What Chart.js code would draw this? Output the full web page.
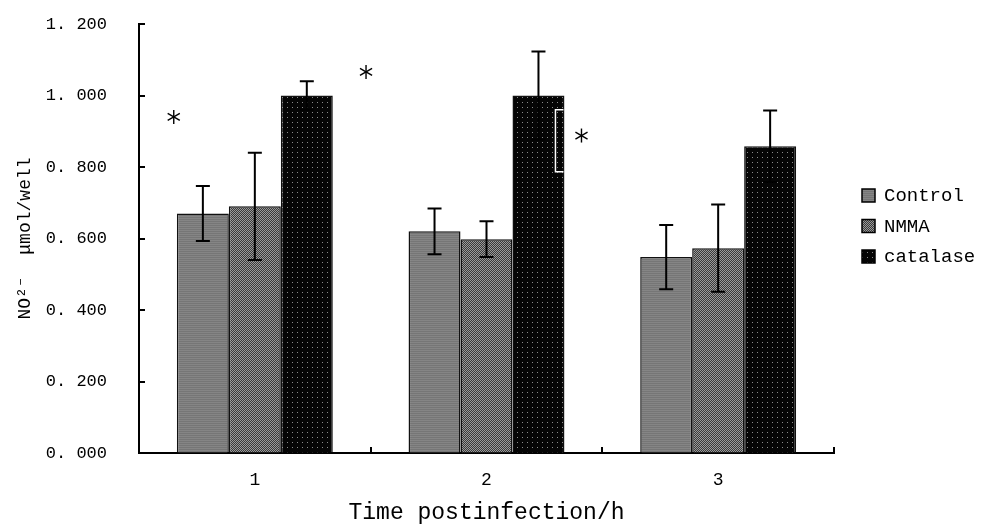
<!DOCTYPE html>
<html>
<head>
<meta charset="utf-8">
<script src="https://cdn.jsdelivr.net/npm/chart.js@4/dist/chart.umd.min.js"></script>
<style>
  html, body { margin: 0; padding: 0; background: #fff; }
  #wrap { width: 983px; height: 527px; }
</style>
</head>
<body>
<div id="wrap"><canvas id="no2Chart" width="983" height="527"></canvas></div>
<script>
// data
const categories = ["1", "2", "3"];
const seriesNames = ["Control", "NMMA", "catalase"];
const controlVals = [0.670, 0.620, 0.548];
const nmmaVals = [0.690, 0.598, 0.573];
const catalaseVals = [1.000, 1.000, 0.858];
const controlErr = [0.077, 0.064, 0.090];
const nmmaErr = [0.150, 0.050, 0.122];
const catalaseErr = [0.040, 0.123, 0.100];
const yTickLabels = ["0. 000", "0. 200", "0. 400", "0. 600", "0. 800", "1. 000", "1. 200"];
// significance marks: [category position, value]
const starMarks = [[-0.35, 0.94], [0.48, 1.066], [1.41, 0.888]];

const FONT = "'Liberation Mono', 'DejaVu Sans Mono', monospace";

// fill patterns like the old office print
function makePattern(kind) {
  const c = document.createElement("canvas");
  const p = c.getContext("2d");
  if (kind === "control") {
    c.width = 4; c.height = 2;
    p.fillStyle = "#858585"; p.fillRect(0, 0, 4, 2);
    p.fillStyle = "#767676"; p.fillRect(0, 1, 4, 1);
  } else if (kind === "nmma") {
    c.width = 2; c.height = 2;
    p.fillStyle = "#3a3a3a"; p.fillRect(0, 0, 2, 2);
    p.fillStyle = "#9a9a9a"; p.fillRect(0, 0, 1, 1); p.fillRect(1, 1, 1, 1);
  } else {
    c.width = 5; c.height = 5;
    p.fillStyle = "#050505"; p.fillRect(0, 0, 5, 5);
    p.fillStyle = "#8a8a8a"; p.fillRect(2, 2, 1, 1);
  }
  return p.createPattern(c, "repeat");
}
const fills = [makePattern("control"), makePattern("nmma"), makePattern("catalase")];
const errs = [controlErr, nmmaErr, catalaseErr];

const extras = {
  id: "extras",
  afterDatasetsDraw(chart) {
    const ctx = chart.ctx;
    const xs = chart.scales.x, ys = chart.scales.y;
    const area = chart.chartArea;
    ctx.save();
    // inward tick marks
    ctx.strokeStyle = "#000";
    ctx.lineWidth = 2;
    ys.ticks.forEach(t => {
      const y = Math.round(ys.getPixelForValue(t.value));
      ctx.beginPath(); ctx.moveTo(area.left, y); ctx.lineTo(area.left + 6, y); ctx.stroke();
    });
    for (let i = 1; i <= categories.length; i++) {
      const x = Math.round(xs.getPixelForValue(i - 0.5));
      ctx.beginPath(); ctx.moveTo(x, area.bottom); ctx.lineTo(x, area.bottom - 6); ctx.stroke();
    }
    // error bars
    chart.data.datasets.forEach((ds, i) => {
      const meta = chart.getDatasetMeta(i);
      meta.data.forEach((bar, j) => {
        const v = ds.data[j], e = errs[i][j];
        const yt = ys.getPixelForValue(v + e), yb = ys.getPixelForValue(v - e);
        ctx.beginPath();
        ctx.moveTo(bar.x, yt); ctx.lineTo(bar.x, yb);
        ctx.moveTo(bar.x - 7, yt); ctx.lineTo(bar.x + 7, yt);
        ctx.moveTo(bar.x - 7, yb); ctx.lineTo(bar.x + 7, yb);
        ctx.stroke();
      });
    });
    // white bracket on catalase at 2
    const b = chart.getDatasetMeta(2).data[1];
    const yt = ys.getPixelForValue(0.960), yb = ys.getPixelForValue(0.787);
    const rx = b.x + b.width / 2 - 1, lx = rx - 8;
    ctx.strokeStyle = "#fff";
    ctx.lineWidth = 1.5;
    ctx.beginPath();
    ctx.moveTo(rx, yt); ctx.lineTo(lx, yt); ctx.lineTo(lx, yb); ctx.lineTo(rx, yb);
    ctx.stroke();
    // stars, six spokes
    ctx.strokeStyle = "#000";
    ctx.lineWidth = 1.4;
    starMarks.forEach(([c, v]) => {
      const cx = xs.getPixelForValue(c), cy = ys.getPixelForValue(v);
      for (let k = 0; k < 3; k++) {
        const a = Math.PI / 2 + k * Math.PI / 3;
        ctx.beginPath();
        ctx.moveTo(cx - 7 * Math.cos(a), cy - 7 * Math.sin(a));
        ctx.lineTo(cx + 7 * Math.cos(a), cy + 7 * Math.sin(a));
        ctx.stroke();
      }
    });
    // legend
    ctx.font = "19px " + FONT;
    ctx.textAlign = "left";
    ctx.textBaseline = "middle";
    seriesNames.forEach((name, i) => {
      const y = 195 + i * 30.5;
      ctx.fillStyle = fills[i];
      ctx.fillRect(862, y - 6, 13, 13);
      ctx.strokeStyle = "#000";
      ctx.lineWidth = 1.5;
      ctx.strokeRect(862, y - 6, 13, 13);
      ctx.fillStyle = "#000";
      ctx.fillText(name, 884, y + 1);
    });
    ctx.restore();
  }
};

new Chart(document.getElementById("no2Chart"), {
  type: "bar",
  data: {
    labels: categories,
    datasets: [
      { label: seriesNames[0], data: controlVals, backgroundColor: fills[0] },
      { label: seriesNames[1], data: nmmaVals, backgroundColor: fills[1] },
      { label: seriesNames[2], data: catalaseVals, backgroundColor: fills[2] }
    ].map(d => Object.assign(d, {
      borderColor: "#111",
      borderWidth: 1.5,
      categoryPercentage: 0.673,
      barPercentage: 1.0
    }))
  },
  options: {
    responsive: false,
    animation: false,
    layout: { padding: { left: 14, right: 149, top: 24, bottom: 0 } },
    plugins: { legend: { display: false }, tooltip: { enabled: false } },
    scales: {
      x: {
        grid: { display: false, drawTicks: false },
        border: { color: "#000", width: 2 },
        ticks: { color: "#000", font: { family: FONT, size: 18 }, padding: 16 },
        title: { display: true, text: "Time postinfection/h", color: "#000",
                 font: { family: FONT, size: 23 }, padding: { top: 0, bottom: 0 } },
        afterFit: s => { s.height = 74; }
      },
      y: {
        min: 0, max: 1.2,
        // invisible tick marks give the gap between labels and axis
        grid: { display: true, drawOnChartArea: false, drawTicks: true,
                tickLength: 30, tickColor: "rgba(0,0,0,0)" },
        border: { color: "#000", width: 2 },
        ticks: {
          stepSize: 0.2, color: "#000", padding: 2,
          font: { family: FONT, size: 17 },
          callback: (v, i) => yTickLabels[i]
        },
        title: { display: true, text: "NO²⁻  μmol/well", color: "#000",
                 font: { family: FONT, size: 18 }, padding: { top: 0, bottom: 0 } },
        afterFit: s => { s.width = 125; }
      }
    }
  },
  plugins: [extras]
});
</script>
</body>
</html>
